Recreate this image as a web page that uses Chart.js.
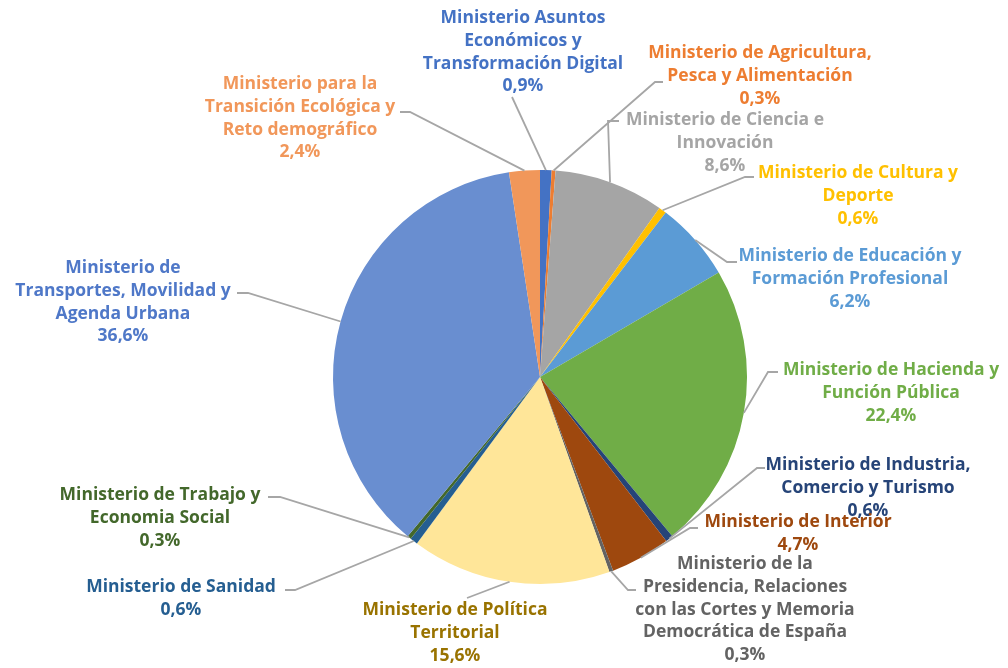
<!DOCTYPE html>
<html>
<head>
<meta charset="utf-8">
<script src="https://cdn.jsdelivr.net/npm/chart.js@4.4.1/dist/chart.umd.min.js"></script>
<style>
  html, body { margin: 0; padding: 0; background: #ffffff; }
  #wrap { width: 1008px; height: 668px; }
</style>
</head>
<body>
<div id="wrap"><canvas id="pie" width="1008" height="668"></canvas></div>
<script>
// categories (multi-line), clockwise from 12 o'clock
var categories = [
  ['Ministerio Asuntos', 'Económicos y', 'Transformación Digital'],
  ['Ministerio de Agricultura,', 'Pesca y Alimentación'],
  ['Ministerio de Ciencia e', 'Innovación'],
  ['Ministerio de Cultura y', 'Deporte'],
  ['Ministerio de Educación y', 'Formación Profesional'],
  ['Ministerio de Hacienda y', 'Función Pública'],
  ['Ministerio de Industria,', 'Comercio y Turismo'],
  ['Ministerio de Interior'],
  ['Ministerio de la', 'Presidencia, Relaciones', 'con las Cortes y Memoria', 'Democrática de España'],
  ['Ministerio de Política', 'Territorial'],
  ['Ministerio de Sanidad'],
  ['Ministerio de Trabajo y', 'Economia Social'],
  ['Ministerio de', 'Transportes, Movilidad y', 'Agenda Urbana'],
  ['Ministerio para la', 'Transición Ecológica y', 'Reto demográfico']
];
var shares = [0.9, 0.3, 8.6, 0.6, 6.2, 22.4, 0.6, 4.7, 0.3, 15.6, 0.6, 0.3, 36.6, 2.4];

var sliceColors = ['#4472C4', '#ED7D31', '#A5A5A5', '#FFC000', '#5B9BD5', '#70AD47', '#264478',
                   '#9E480E', '#636363', '#FFE699', '#255E91', '#43682B', '#698ED0', '#F1975A'];
var textColors  = ['#4472C4', '#ED7D31', '#A5A5A5', '#FFC000', '#5B9BD5', '#70AD47', '#264478',
                   '#9E480E', '#636363', '#997300', '#255E91', '#43682B', '#4F78C8', '#F1975A'];

// label placement: text centre x, first line y, leader elbow (ex,ey) and end x (tx)
var labelPos = [
  {cx: 523, y: 18,  ex: 512, ey: 97,  tx: 512},
  {cx: 760, y: 53,  ex: 655, ey: 82,  tx: 663},
  {cx: 725, y: 120, ex: 608, ey: 121, tx: 619},
  {cx: 858, y: 173, ex: 745, ey: 177, tx: 754},
  {cx: 850, y: 256, ex: 727, ey: 262, tx: 737},
  {cx: 891, y: 370, ex: 768, ey: 372, tx: 778},
  {cx: 868, y: 465, ex: 757, ey: 468, tx: 765},
  {cx: 798, y: 522, ex: 690, ey: 528, tx: 698},
  {cx: 745, y: 564, ex: 628, ey: 590, tx: 636},
  {cx: 455, y: 610, ex: 467, ey: 598, tx: 467},
  {cx: 181, y: 587, ex: 295, ey: 590, tx: 285},
  {cx: 160, y: 495, ex: 280, ey: 497, tx: 268},
  {cx: 123, y: 268, ex: 248, ey: 293, tx: 237},
  {cx: 300, y: 84,  ex: 410, ey: 112, tx: 400}
];

var outLabels = {
  id: 'outLabels',
  afterDatasetsDraw: function(chart) {
    var ctx = chart.ctx;
    var meta = chart.getDatasetMeta(0);
    ctx.save();
    meta.data.forEach(function(arc, i) {
      var p = arc.getProps(['x', 'y', 'startAngle', 'endAngle', 'outerRadius'], true);
      var mid = (p.startAngle + p.endAngle) / 2;
      var ax = p.x + Math.cos(mid) * p.outerRadius;
      var ay = p.y + Math.sin(mid) * p.outerRadius;
      var L = labelPos[i];
      ctx.strokeStyle = '#A6A6A6';
      ctx.lineWidth = 1.8;
      ctx.beginPath();
      ctx.moveTo(ax, ay);
      ctx.lineTo(L.ex, L.ey);
      ctx.lineTo(L.tx, L.ey);
      ctx.stroke();

      var lines = categories[i].concat([shares[i].toFixed(1).replace('.', ',') + '%']);
      ctx.fillStyle = textColors[i];
      ctx.font = 'bold 17.5px "Open Sans"';
      ctx.textAlign = 'center';
      ctx.textBaseline = 'middle';
      lines.forEach(function(t, k) {
        ctx.fillText(t, L.cx, L.y + k * 22.8);
      });
    });
    ctx.restore();
  }
};

var ctx = document.getElementById('pie').getContext('2d');
new Chart(ctx, {
  type: 'pie',
  data: {
    labels: categories,
    datasets: [{
      data: shares,
      backgroundColor: sliceColors,
      borderWidth: 0
    }]
  },
  options: {
    responsive: false,
    animation: false,
    layout: { padding: { left: 333, right: 261, top: 170, bottom: 84 } },
    plugins: {
      legend: { display: false },
      tooltip: { enabled: false }
    }
  },
  plugins: [outLabels]
});
</script>
</body>
</html>
